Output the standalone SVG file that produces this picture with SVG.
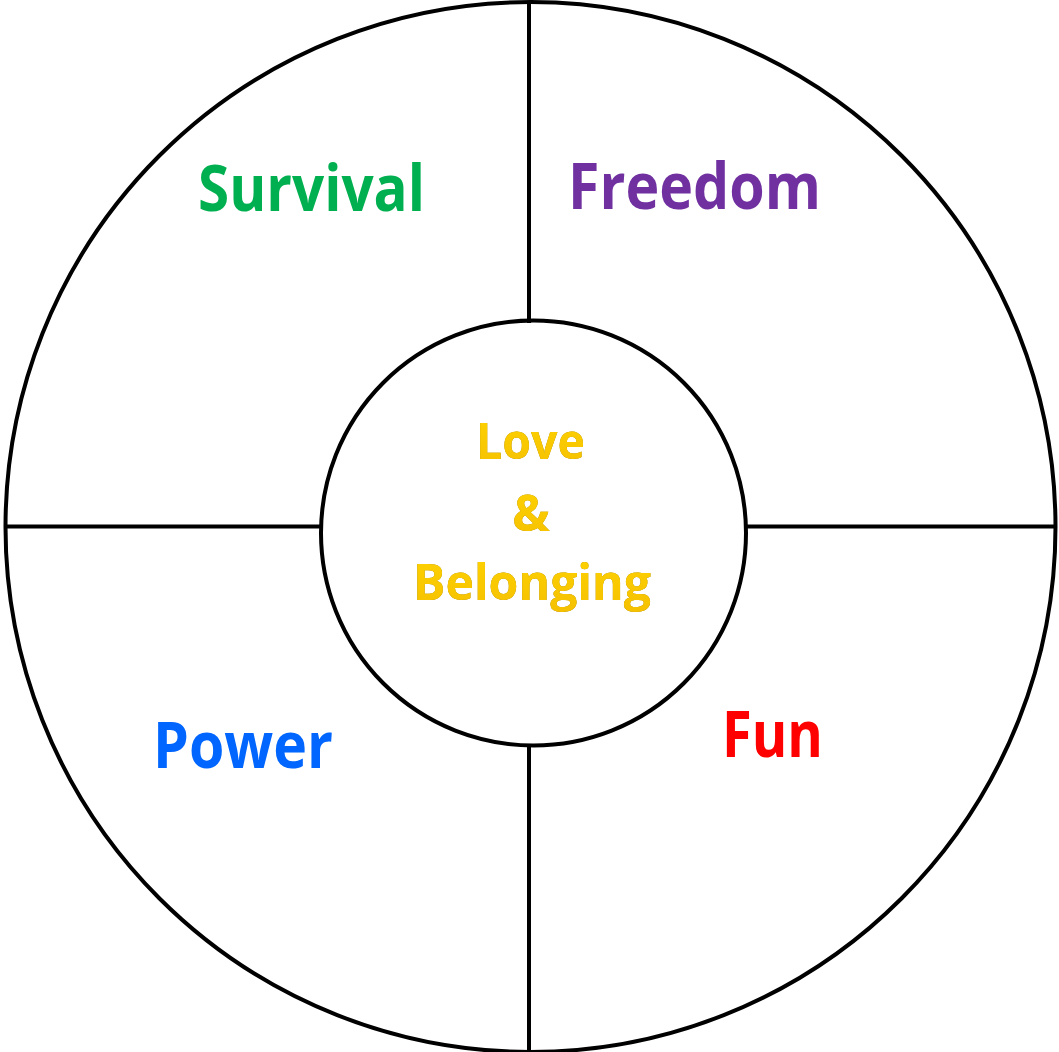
<svg xmlns="http://www.w3.org/2000/svg" width="1059" height="1052" viewBox="0 0 1059 1052">
<defs>
<style>
.ln{stroke:#000;stroke-width:4;fill:none}
.t{font-family:"Open Sans","Liberation Sans",sans-serif;font-weight:bold;text-anchor:middle}
.gold{fill:url(#g);font-size:50px}
</style>
<linearGradient id="g" x1="0" y1="0" x2="0" y2="1">
<stop offset="0" stop-color="#FFD400"/>
<stop offset="1" stop-color="#F5C000"/>
</linearGradient>
<filter id="sh" x="-10%" y="-10%" width="120%" height="130%">
<feGaussianBlur in="SourceAlpha" stdDeviation="1.2"/>
<feOffset dx="1" dy="2"/>
<feComponentTransfer><feFuncA type="linear" slope="0.45"/></feComponentTransfer>
<feFlood flood-color="#7a5a00"/>
<feComposite operator="in" in2="SourceAlpha"/>
<feMerge><feMergeNode/><feMergeNode in="SourceGraphic"/></feMerge>
</filter>
</defs>
<rect width="1059" height="1052" fill="#fff"/>
<g id="connectors">
<line class="ln" x1="529" y1="4" x2="529" y2="323"/>
<line class="ln" x1="529" y1="744" x2="529" y2="1050"/>
<line class="ln" x1="5" y1="526.5" x2="321" y2="526.5"/>
<line class="ln" x1="746" y1="526.5" x2="1056" y2="526.5"/>
</g>
<g id="outer"><circle class="ln" cx="530.5" cy="527" r="525"/></g>
<g id="inner"><circle class="ln" cx="533.5" cy="533" r="212.5"/></g>
<g id="survival"><text class="t" x="311.5" y="211" font-size="64" fill="#00B050" textLength="227" lengthAdjust="spacingAndGlyphs">Survival</text></g>
<g id="freedom"><text class="t" x="694.5" y="209" font-size="64" fill="#7030A0" textLength="253" lengthAdjust="spacingAndGlyphs">Freedom</text></g>
<g id="power"><text class="t" x="243" y="768" font-size="64" fill="#0066FF" textLength="180" lengthAdjust="spacingAndGlyphs">Power</text></g>
<g id="fun"><text class="t" x="772.5" y="757" font-size="64" fill="#FF0000" textLength="101" lengthAdjust="spacingAndGlyphs">Fun</text></g>
<g id="love" filter="url(#sh)">
<text class="t gold" x="530.5" y="459" textLength="109" lengthAdjust="spacingAndGlyphs">Love</text>
<text class="t gold" x="531" y="531">&amp;</text>
<text class="t gold" x="532" y="600" textLength="238" lengthAdjust="spacingAndGlyphs">Belonging</text>
</g>
</svg>
